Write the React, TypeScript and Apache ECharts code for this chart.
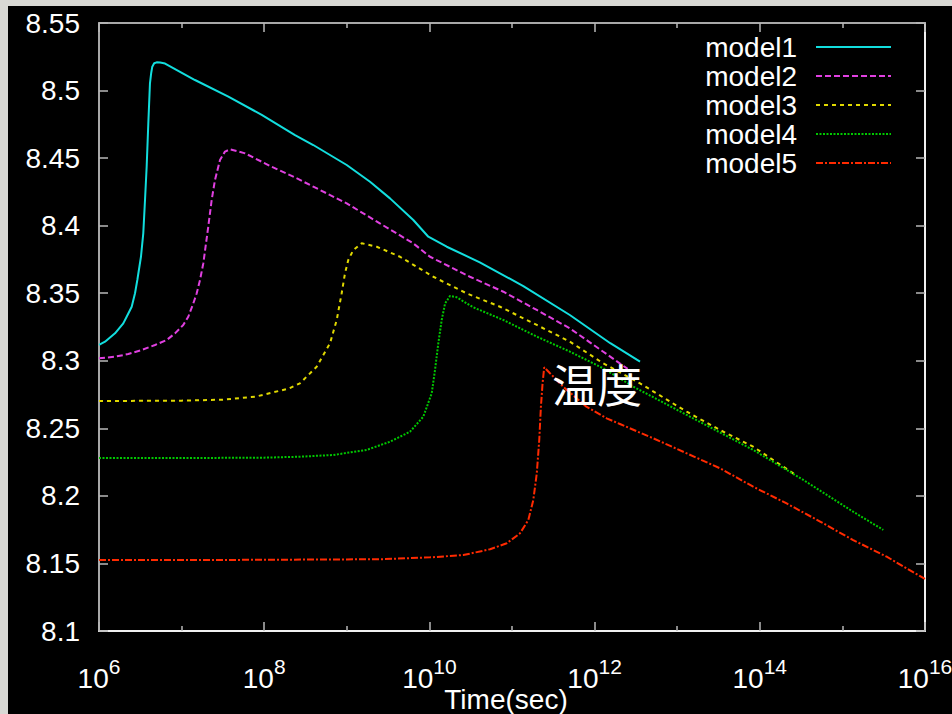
import React, { useEffect, useRef } from 'react';
import * as echarts from 'echarts';

// x values are log10(Time / sec)
const seriesNames = ['model1', 'model2', 'model3', 'model4', 'model5'];
const xTickExponents = [6, 8, 10, 12, 14, 16];

const model1: [number, number][] = [
  [6.0, 8.3117], [6.073, 8.3141], [6.194, 8.3203], [6.294, 8.3277], [6.335, 8.3326],
  [6.396, 8.34], [6.436, 8.35], [6.464, 8.3598], [6.508, 8.377], [6.536, 8.3943],
  [6.557, 8.419], [6.577, 8.4436], [6.597, 8.4758], [6.617, 8.5054], [6.632, 8.513],
  [6.645, 8.5177], [6.668, 8.5202], [6.698, 8.5209], [6.74, 8.5207], [6.8, 8.52],
  [7.162, 8.5078], [7.566, 8.4955], [7.97, 8.482], [8.373, 8.467], [8.594, 8.4597],
  [8.999, 8.4449], [9.281, 8.4325], [9.523, 8.4202], [9.805, 8.4042], [9.987, 8.3918],
  [10.21, 8.3844], [10.61, 8.3729], [11.137, 8.3553], [11.7, 8.3339], [12.19, 8.313],
  [12.55, 8.2993],
];

const model2: [number, number][] = [
  [6.0, 8.3018], [6.194, 8.303], [6.355, 8.305], [6.517, 8.308], [6.678, 8.3117],
  [6.82, 8.3154], [6.92, 8.3203], [7.02, 8.3265], [7.081, 8.3326], [7.142, 8.3425],
  [7.183, 8.35], [7.223, 8.3598], [7.263, 8.3722], [7.323, 8.3993], [7.364, 8.419],
  [7.404, 8.4338], [7.465, 8.4486], [7.525, 8.4548], [7.586, 8.4565], [7.77, 8.4535],
  [8.09, 8.4436], [8.373, 8.4357], [8.594, 8.4289], [8.999, 8.4165], [9.4, 8.4017],
  [9.805, 8.3869], [10.007, 8.377], [10.49, 8.3622], [10.895, 8.3511], [11.3, 8.3376],
  [11.7, 8.324], [12.105, 8.3067], [12.4, 8.294],
];

const model3: [number, number][] = [
  [6.0, 8.2702], [7.0, 8.2705], [7.5, 8.2712], [7.9, 8.2735], [8.1, 8.2765],
  [8.3, 8.2795], [8.433, 8.2833], [8.635, 8.2956], [8.797, 8.313], [8.878, 8.3302],
  [8.938, 8.35], [8.978, 8.3647], [9.018, 8.3746], [9.079, 8.382], [9.18, 8.387],
  [9.362, 8.3844], [9.644, 8.377], [10.047, 8.3622], [10.45, 8.3499], [10.855, 8.34],
  [11.3, 8.3265], [11.7, 8.3142], [12.105, 8.2981], [12.55, 8.2833], [13.115, 8.2623],
  [13.518, 8.2488], [13.92, 8.2364], [14.405, 8.2167], [14.43, 8.2155],
];

const model4: [number, number][] = [
  [6.0, 8.228], [7.0, 8.228], [8.0, 8.2283], [8.433, 8.229], [8.837, 8.2303],
  [9.24, 8.234], [9.523, 8.2401], [9.765, 8.2475], [9.926, 8.2586], [10.028, 8.2759],
  [10.068, 8.2932], [10.108, 8.313], [10.149, 8.3302], [10.19, 8.3425], [10.25, 8.348],
  [10.33, 8.347], [10.53, 8.3396], [10.895, 8.3302], [11.3, 8.3179], [11.7, 8.3068],
  [12.105, 8.2944], [12.47, 8.2808], [13.115, 8.2599], [13.92, 8.234], [14.527, 8.2118],
  [15.13, 8.1883], [15.495, 8.1748],
];

const model5: [number, number][] = [
  [6.0, 8.1525], [7.0, 8.1525], [8.0, 8.1527], [9.0, 8.153], [9.4, 8.1531],
  [10.007, 8.1545], [10.41, 8.1562], [10.734, 8.1605], [10.936, 8.1649], [11.097, 8.1723],
  [11.198, 8.1822], [11.258, 8.197], [11.3, 8.2167], [11.33, 8.2414], [11.35, 8.266],
  [11.37, 8.2833], [11.39, 8.2952], [11.46, 8.2908], [11.62, 8.2808], [11.9, 8.266],
  [12.146, 8.2574], [12.307, 8.2532], [12.71, 8.2426], [13.115, 8.2315], [13.518, 8.2204],
  [13.92, 8.2068], [14.325, 8.1944], [14.73, 8.181], [15.13, 8.1673], [15.536, 8.155],
  [16.0, 8.1385],
];

const seriesData = [model1, model2, model3, model4, model5];
const seriesColors = ['#12dede', '#e040e0', '#e0d800', '#00c800', '#ff2a00'];
const seriesDash: any[] = ['solid', [6, 3], [4, 4], [2, 1.5], [7, 2, 2, 2]];

const FONT = '"Liberation Sans", Arial, sans-serif';

export default function App() {
  const ref = useRef<HTMLDivElement>(null);
  useEffect(() => {
    if (!ref.current) return;
    const chart = echarts.init(ref.current, null, { renderer: 'svg' });
    const frameGrey = '#a8a8a8';
    const frameWhite = '#f0f0f0';
    const tickStyle = { color: '#b8b8b8', width: 1.5 };
    const xCommon = {
      type: 'value' as const,
      min: xTickExponents[0],
      max: xTickExponents[xTickExponents.length - 1],
      interval: 2,
      splitLine: { show: false },
      axisTick: { show: true, inside: true, length: 9, lineStyle: tickStyle },
      minorTick: { show: true, splitNumber: 2, length: 5, lineStyle: tickStyle },
    };
    const yCommon = {
      type: 'value' as const,
      min: 8.1,
      max: 8.55,
      interval: 0.05,
      splitLine: { show: false },
      axisTick: { show: true, inside: true, length: 9, lineStyle: tickStyle },
    };
    const option: any = {
      animation: false,
      backgroundColor: '#000000',
      grid: { left: 91, right: 27, top: 17, bottom: 83, containLabel: false, outerBoundsMode: 'none' },
      legend: {
        orient: 'vertical',
        right: 55,
        top: 22,
        align: 'right',
        itemWidth: 75,
        itemHeight: 14,
        itemGap: 1,
        data: seriesNames,
        itemStyle: { opacity: 0 },
        textStyle: { color: '#ffffff', fontSize: 28, fontFamily: FONT, lineHeight: 28, padding: [0, 14, 0, 0] },
      },
      xAxis: [
        {
          ...xCommon,
          position: 'bottom',
          axisLine: { show: true, onZero: false, lineStyle: { color: frameWhite, width: 2 } },
          axisLabel: {
            show: true,
            margin: 9,
            padding: [16, 0, 0, 0],
            formatter: (v: number) => `{b|10}{s|${Math.round(v)}}`,
            rich: {
              b: { color: '#ffffff', fontSize: 28, fontFamily: FONT, lineHeight: 44 },
              s: { color: '#ffffff', fontSize: 21, fontFamily: FONT, lineHeight: 22, verticalAlign: 'top' },
            },
          },
          name: 'Time(sec)',
          nameLocation: 'middle',
          nameGap: 54,
          nameMoveOverlap: false,
          nameTextStyle: { color: '#ffffff', fontSize: 28, fontFamily: FONT, padding: [0, 12, 0, 0] },
        },
        {
          ...xCommon,
          position: 'top',
          axisLine: { show: true, onZero: false, lineStyle: { color: frameGrey, width: 2 } },
          axisLabel: { show: false },
        },
      ],
      yAxis: [
        {
          ...yCommon,
          position: 'left',
          axisLine: { show: true, onZero: false, lineStyle: { color: frameGrey, width: 2 } },
          axisLabel: {
            show: true,
            margin: 19,
            color: '#ffffff',
            fontSize: 28,
            fontFamily: FONT,
            formatter: (v: number) => String(Math.round(v * 100) / 100),
          },
        },
        {
          ...yCommon,
          position: 'right',
          axisLine: { show: true, onZero: false, lineStyle: { color: frameWhite, width: 2 } },
          axisLabel: { show: false },
        },
      ],
      graphic: [
        {
          type: 'text',
          x: 589,
          y: 377,
          style: {
            text: '温度',
            fill: '#ffffff',
            fontSize: 45,
            fontFamily: '"Noto Sans CJK JP", "Noto Sans CJK SC", sans-serif',
            textAlign: 'center',
            textVerticalAlign: 'middle',
          },
          z: 100,
        },
      ],
      series: seriesNames.map((name, i) => ({
        name,
        type: 'line',
        xAxisIndex: 0,
        yAxisIndex: 0,
        data: seriesData[i],
        symbol: 'none',
        smooth: false,
        color: seriesColors[i],
        lineStyle: { color: seriesColors[i], width: 2, type: seriesDash[i] },
      })),
    };
    chart.setOption(option);
    return () => chart.dispose();
  }, []);
  return (
    <div style={{ position: 'fixed', left: 0, top: 0, width: 952, height: 714, background: '#d8d8d4', overflow: 'hidden' }}>
      <div ref={ref} style={{ position: 'absolute', left: 8, top: 6, width: 944, height: 708, background: '#000' }} />
    </div>
  );
}
